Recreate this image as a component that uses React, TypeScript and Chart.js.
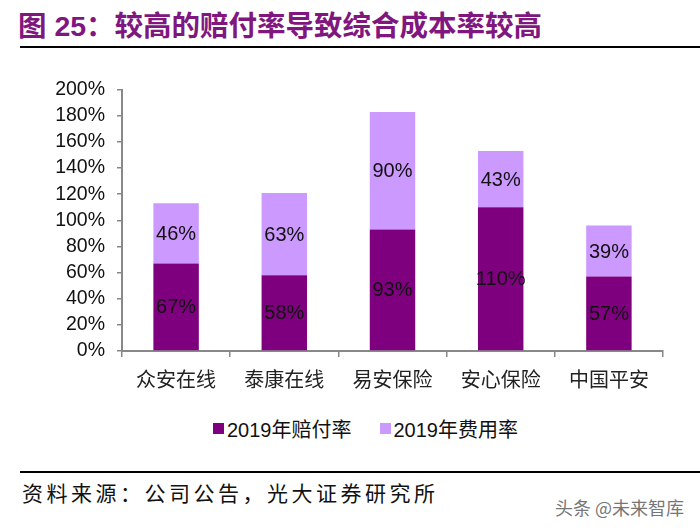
import { useEffect, useRef } from "react";
import { Chart, registerables, Plugin } from "chart.js";

Chart.register(...registerables);

const categories = ["众安在线", "泰康在线", "易安保险", "安心保险", "中国平安"];
const seriesNames = ["2019年赔付率", "2019年费用率"];
const lossRatio = [67, 58, 93, 110, 57];
const expenseRatio = [46, 63, 90, 43, 39];
const seriesColors = ["#7f007f", "#cc99ff"];

const barLabels: Plugin<"bar"> = {
  id: "barLabels",
  afterDatasetsDraw(chart) {
    const ctx = chart.ctx;
    ctx.save();
    ctx.font = "20px 'Liberation Sans', Arial, sans-serif";
    ctx.fillStyle = "#111";
    ctx.textAlign = "center";
    ctx.textBaseline = "middle";
    chart.data.datasets.forEach((ds, i) => {
      const meta = chart.getDatasetMeta(i);
      meta.data.forEach((el: any, j) => {
        const v = ds.data[j] as number;
        ctx.fillText(v + "%", el.x, (el.y + el.base) / 2 + 1);
      });
    });
    ctx.restore();
  },
};

export default function App() {
  const ref = useRef<HTMLCanvasElement | null>(null);

  useEffect(() => {
    document.body.style.margin = "0";
    if (!ref.current) return;
    const chart = new Chart(ref.current, {
      type: "bar",
      data: {
        labels: categories,
        datasets: [
          {
            label: seriesNames[0],
            data: lossRatio,
            backgroundColor: seriesColors[0],
            categoryPercentage: 1,
            barPercentage: 0.42,
          },
          {
            label: seriesNames[1],
            data: expenseRatio,
            backgroundColor: seriesColors[1],
            categoryPercentage: 1,
            barPercentage: 0.42,
          },
        ],
      },
      options: {
        animation: false,
        responsive: false,
        maintainAspectRatio: false,
        layout: { padding: { top: 20, right: 37, bottom: 0, left: 0 } },
        plugins: {
          legend: { display: false },
          tooltip: { enabled: false },
        },
        scales: {
          x: {
            stacked: true,
            afterFit: (s) => {
              s.height = 45;
            },
            grid: {
              offset: true,
              drawOnChartArea: false,
              drawTicks: true,
              tickLength: 6,
              color: "#888",
              lineWidth: 1.5,
            },
            border: { display: true, color: "#888", width: 2 },
            ticks: {
              color: "#222",
              padding: 10,
              font: { size: 20, family: "'Noto Sans CJK SC', sans-serif" },
            },
          },
          y: {
            stacked: true,
            min: 0,
            max: 200,
            afterFit: (s) => {
              s.width = 122;
            },
            grid: {
              drawOnChartArea: false,
              drawTicks: true,
              tickLength: 5,
              color: "#888",
              lineWidth: 1.5,
            },
            border: { display: true, color: "#888", width: 2 },
            ticks: {
              stepSize: 20,
              autoSkip: false,
              color: "#111",
              padding: 12,
              callback: (v) => v + "%",
              font: { size: 19.5, family: "'Liberation Sans', Arial, sans-serif" },
            },
          },
        },
      },
      plugins: [barLabels],
    });
    return () => {
      chart.destroy();
    };
  }, []);

  return (
    <div style={{ position: "relative", width: 700, height: 532, background: "#fff", overflow: "hidden" }}>
      <div
        style={{
          position: "absolute",
          left: 18,
          top: 3,
          fontSize: 28.5,
          fontWeight: "bold",
          color: "#80177f",
          fontFamily: "'Liberation Sans', 'Noto Sans CJK SC', sans-serif",
          whiteSpace: "nowrap",
        }}
      >
        图 25：较高的赔付率导致综合成本率较高
      </div>
      <div style={{ position: "absolute", left: 20, right: 0, top: 46, height: 2, background: "#000" }} />
      <canvas ref={ref} width={700} height={330} style={{ position: "absolute", left: 0, top: 66 }} />
      <div
        style={{
          position: "absolute",
          left: 213,
          top: 414,
          display: "flex",
          alignItems: "center",
          fontSize: 20,
          color: "#111",
          fontFamily: "'Liberation Sans', 'Noto Sans CJK SC', sans-serif",
          whiteSpace: "nowrap",
        }}
      >
        {seriesNames.map((n, i) => (
          <div key={n} style={{ display: "flex", alignItems: "center", marginRight: i === 0 ? 28 : 0 }}>
            <span style={{ width: 11, height: 11, background: seriesColors[i], marginRight: 3 }} />
            <span>{n}</span>
          </div>
        ))}
      </div>
      <div style={{ position: "absolute", left: 20, right: 0, top: 471, height: 2, background: "#000" }} />
      <div
        style={{
          position: "absolute",
          left: 22,
          top: 477,
          fontSize: 21,
          letterSpacing: 3.5,
          color: "#111",
          fontFamily: "'Noto Sans CJK SC', serif",
          whiteSpace: "nowrap",
        }}
      >
        资料来源：公司公告，光大证券研究所
      </div>
      <div
        style={{
          position: "absolute",
          left: 555,
          top: 494,
          fontSize: 18,
          color: "#555",
          opacity: 0.8,
          fontFamily: "'Noto Sans CJK SC', sans-serif",
          whiteSpace: "nowrap",
        }}
      >
        头条 @未来智库
      </div>
    </div>
  );
}
